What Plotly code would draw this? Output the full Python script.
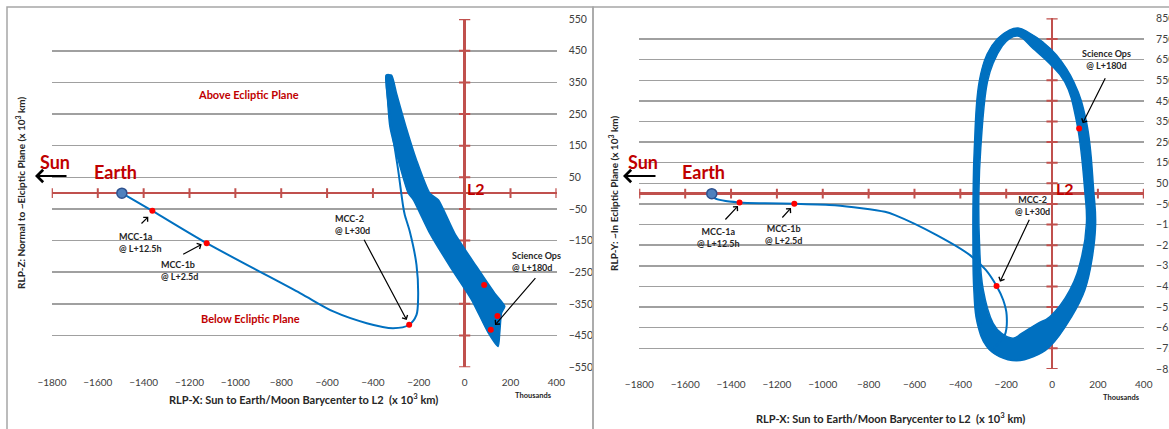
import plotly.graph_objects as go

W, H = 1169, 429

# ---------------- data (x 10^3 km) ----------------
x_ticks = [-1800, -1600, -1400, -1200, -1000, -800, -600, -400, -200, 0, 200, 400]
xz_y_ticks = [550, 450, 350, 250, 150, 50, -50, -150, -250, -350, -450, -550]
xy_y_ticks = [850, 750, 650, 550, 450, 350, 250, 150, 50, -50, -150, -250, -350, -450, -550, -650, -750, -850]

# Left panel: RLP-X vs RLP-Z
xz_transfer_x = [-1495, -1362, -1125, -718, -573, -427, -312, -242, -210, -203, -210, -239, -261, -268, -290, -319, -340, -338]
xz_transfer_y = [0, -56, -158, -316, -374, -411, -427, -416, -385, -332, -227, -122, -69, -43, 73, 210, 336, 373]
xz_band_x = [-343, -338, -326, -290, -246, -224, -152, -64, 30, 103, 146, 153, 161, 175, 131, 52, -43, -115, -152, -210, -256, -297, -319, -343]
xz_band_y = [373, 315, 210, 105, 0, -21, -127, -232, -337, -442, -485, -442, -379, -358, -316, -232, -127, -21, 0, 105, 210, 315, 373, 373]
xz_events_x = [-1362, -1125, -242, 85, 143, 114]
xz_events_y = [-56, -158, -416, -290, -388, -432]
xz_earth = (-1495, 0)

# Right panel: RLP-X vs RLP-Y
xy_transfer_x = [-1484, -1470, -1363, -1252, -1124, -947, -729, -685, -503, -358, -289, -242, -213, -198, -206, -256]
xy_transfer_y = [0, -23, -43, -47, -49, -56, -88, -104, -201, -298, -370, -448, -516, -588, -685, -750]
xy_loop_x = [-335, -333, -325, -307, -271, -242]
xy_loop_y = [-225, -300, -435, -661, -750, -766]
xy_ring_outer_x = [-148, -188, -238, -283, -318, -339, -344, -345, -341, -326, -285, -230, -155,
                   -80, -10, 85, 143, 176, 190, 182, 150, 95, 20, -40, -100, -148]
xy_ring_outer_y = [803, 792, 751, 677, 541, 219, 9, -225, -467, -629, -742, -790, -810,
                   -790, -742, -597, -467, -306, -144, 9, 348, 541, 671, 735, 780, 803]
xy_ring_inner_x = [-148, -188, -220, -255, -282, -311, -319, -317, -300, -257, -220, -169, -133,
                   -62, -10, 78, 129, 150, 143, 107, 56, -10, -82, -148]
xy_ring_inner_y = [764, 750, 711, 638, 541, 219, 9, -225, -467, -629, -678, -701, -678,
                   -629, -597, -467, -306, -144, 9, 348, 541, 630, 703, 764]
xy_events_x = [-1363, -1124, -242, 118]
xy_events_y = [-43, -49, -448, 316]
xy_earth = (-1484, 0)

# ---------------- styles ----------------
BLUE = "#0070c0"
AXRED = "#c0504d"
TXTRED = "#c00000"
GRID = "#a0a0a0"
FONT = "Lato, Open Sans, Arial, sans-serif"

fig = go.Figure()


def add_panel(xa, ya, yticks, band_traces, transfer, extra, events, earth):
    # red axis tick marks
    fig.add_trace(go.Scatter(x=x_ticks, y=[0] * len(x_ticks), mode="markers", xaxis=xa, yaxis=ya,
                             marker=dict(symbol="line-ns", size=7, line=dict(width=2, color=AXRED)),
                             hoverinfo="skip", showlegend=False))
    fig.add_trace(go.Scatter(x=[0] * len(yticks), y=yticks, mode="markers", xaxis=xa, yaxis=ya,
                             marker=dict(symbol="line-ew", size=8, line=dict(width=2, color=AXRED)),
                             hoverinfo="skip", showlegend=False))
    for t in band_traces:
        t.update(xaxis=xa, yaxis=ya)
        fig.add_trace(t)
    for (tx, ty) in [transfer] + extra:
        fig.add_trace(go.Scatter(x=tx, y=ty, mode="lines", xaxis=xa, yaxis=ya,
                                 line=dict(color=BLUE, width=2, shape="spline", smoothing=0.8),
                                 hoverinfo="skip", showlegend=False))
    fig.add_trace(go.Scatter(x=events[0], y=events[1], mode="markers", xaxis=xa, yaxis=ya,
                             marker=dict(color="#ff0000", size=6), hoverinfo="skip", showlegend=False))
    fig.add_trace(go.Scatter(x=[earth[0]], y=[earth[1]], mode="markers", xaxis=xa, yaxis=ya,
                             marker=dict(color="#4f81bd", size=10, line=dict(color="#2f528f", width=1.5)),
                             hoverinfo="skip", showlegend=False))


left_band = [go.Scatter(x=xz_band_x, y=xz_band_y, mode="lines", fill="toself", fillcolor=BLUE,
                        line=dict(color=BLUE, width=1.5, shape="spline", smoothing=0.6),
                        hoverinfo="skip", showlegend=False)]
right_band = [
    go.Scatter(x=xy_ring_outer_x, y=xy_ring_outer_y, mode="lines",
               line=dict(color=BLUE, width=1.5, shape="spline", smoothing=1.2), hoverinfo="skip", showlegend=False),
    go.Scatter(x=xy_ring_inner_x, y=xy_ring_inner_y, mode="lines", fill="tonext", fillcolor=BLUE,
               line=dict(color=BLUE, width=1.5, shape="spline", smoothing=1.2), hoverinfo="skip", showlegend=False),
]

add_panel("x", "y", xz_y_ticks, left_band, (xz_transfer_x, xz_transfer_y), [],
          (xz_events_x, xz_events_y), xz_earth)
add_panel("x2", "y2", xy_y_ticks, right_band, (xy_transfer_x, xy_transfer_y), [(xy_loop_x, xy_loop_y)],
          (xy_events_x, xy_events_y), xy_earth)


def xaxis(dom, anchor):
    return dict(domain=dom, anchor=anchor, range=[x_ticks[0] - 1, x_ticks[-1] + 1], tickvals=x_ticks,
                showgrid=False, automargin=False,
                zeroline=True, zerolinecolor=AXRED, zerolinewidth=2.5, showline=False,
                ticks="outside", ticklen=6, tickcolor="rgba(0,0,0,0)",
                tickfont=dict(family=FONT, size=10, color="#404040"), fixedrange=True)


def yaxis(dom, ticks, anchor):
    return dict(domain=dom, anchor=anchor, range=[ticks[-1] - 0.5, ticks[0] + 0.5], tickvals=ticks, side="right",
                showgrid=True, gridcolor=GRID, gridwidth=1.5, zeroline=True, zerolinecolor=AXRED,
                zerolinewidth=2.5, showline=False, ticks="outside", ticklen=9, tickcolor="rgba(0,0,0,0)",
                automargin=False,
                tickfont=dict(family=FONT, size=10.5, color="#404040"), fixedrange=True)


fig.update_layout(
    template="none",
    width=W, height=H, margin=dict(l=0, r=0, t=0, b=0, autoexpand=False),
    paper_bgcolor="white", plot_bgcolor="white", showlegend=False, hovermode=False,
    xaxis=xaxis([51.7 / W, 556.6 / W], "y"),
    yaxis=yaxis([1 - 367.3 / H, 1 - 19 / H], xz_y_ticks, "x"),
    xaxis2=xaxis([639.1 / W, 1144 / W], "y2"),
    yaxis2=yaxis([1 - 369 / H, 1 - 18.3 / H], xy_y_ticks, "x2"),
)


def P(px, py):
    return dict(x=px / W, y=1 - py / H, xref="paper", yref="paper")


ann = []


def text(px, py, s, size, color="#262626", bold=True, xanchor="center", align="center", angle=0):
    ann.append(dict(P(px, py), text=("<b>%s</b>" % s) if bold else s, showarrow=False, xanchor=xanchor,
                    yanchor="middle", align=align, textangle=angle,
                    font=dict(family=FONT, size=size, color=color)))


def arrow(hx, hy, tx, ty, width=1.2, head=4, asize=1.0):
    ann.append(dict(P(hx, hy), text="", showarrow=True, ax=tx - hx, ay=ty - hy, arrowhead=head,
                    arrowsize=asize, arrowwidth=width, arrowcolor="black"))


# Left panel texts
text(20, 193, "RLP-Z: Normal to ~Elciptic Plane (x 10<sup>3</sup> km)", 10, angle=-90)
text(303, 398, "RLP-X: Sun to Earth/Moon Barycenter to L2  (x 10<sup>3</sup> km)", 11)
text(533, 395, "Thousands", 7.5)
text(248, 94, "Above Ecliptic Plane", 11, color=TXTRED)
text(250, 318, "Below Ecliptic Plane", 11, color=TXTRED)
text(55, 162, "Sun", 18, color=TXTRED)
text(115, 172, "Earth", 18, color=TXTRED)
text(476, 188, "L2", 16, color=TXTRED)
text(117, 242, "MCC-1a<br>@ L+12.5h", 9, xanchor="left", align="left")
text(159, 270, "MCC-1b<br>@ L+2.5d", 9, xanchor="left", align="left")
text(333, 224, "MCC-2<br>@ L+30d", 9, xanchor="left", align="left")
text(510, 261, "Science Ops<br>@ L+180d", 9, xanchor="left", align="left")
arrow(35, 176, 68, 176, width=2, head=4, asize=1.2)
arrow(148.3, 216.7, 140, 225)
arrow(201.7, 244.3, 181.7, 255)
arrow(406.7, 320, 363.3, 238.3)
arrow(495, 325, 536.7, 276.7)

# Right panel texts
text(613, 193, "RLP-Y: ~In Ecliptic Plane (x 10<sup>3</sup> km)", 10, angle=-90)
text(891, 417, "RLP-X: Sun to Earth/Moon Barycenter to L2  (x 10<sup>3</sup> km)", 11)
text(1121, 397, "Thousands", 7.5)
text(643, 162, "Sun", 18, color=TXTRED)
text(703, 172, "Earth", 18, color=TXTRED)
text(1065, 188, "L2", 16, color=TXTRED)
text(718, 237.5, "MCC-1a<br>@ L+12.5h", 9)
text(783, 234.5, "MCC-1b<br>@ L+2.5d", 9)
text(1032, 205.5, "MCC-2<br>@ L+30d", 9)
text(1106, 59, "Science Ops<br>@ L+180d", 9)
arrow(623, 176, 657, 176, width=2, head=4, asize=1.2)
arrow(738, 206, 724, 221)
arrow(791, 208, 781, 219)
arrow(1000, 281.7, 1030, 218.3)
arrow(1082.7, 123.3, 1106, 76.7)

fig.update_layout(annotations=ann)

# panel frames
FR = "#a6a6a6"
fig.add_shape(type="rect", xref="paper", yref="paper", x0=7 / W, x1=593 / W, y0=-0.05, y1=1 - 7 / H,
              line=dict(color=FR, width=1.5))
fig.add_shape(type="rect", xref="paper", yref="paper", x0=593 / W, x1=1.05, y0=-0.05, y1=1 - 7 / H,
              line=dict(color=FR, width=1.5))

fig.write_html("out.html", config={"displayModeBar": False, "staticPlot": True},
               post_script="document.body.style.margin='0px';")
